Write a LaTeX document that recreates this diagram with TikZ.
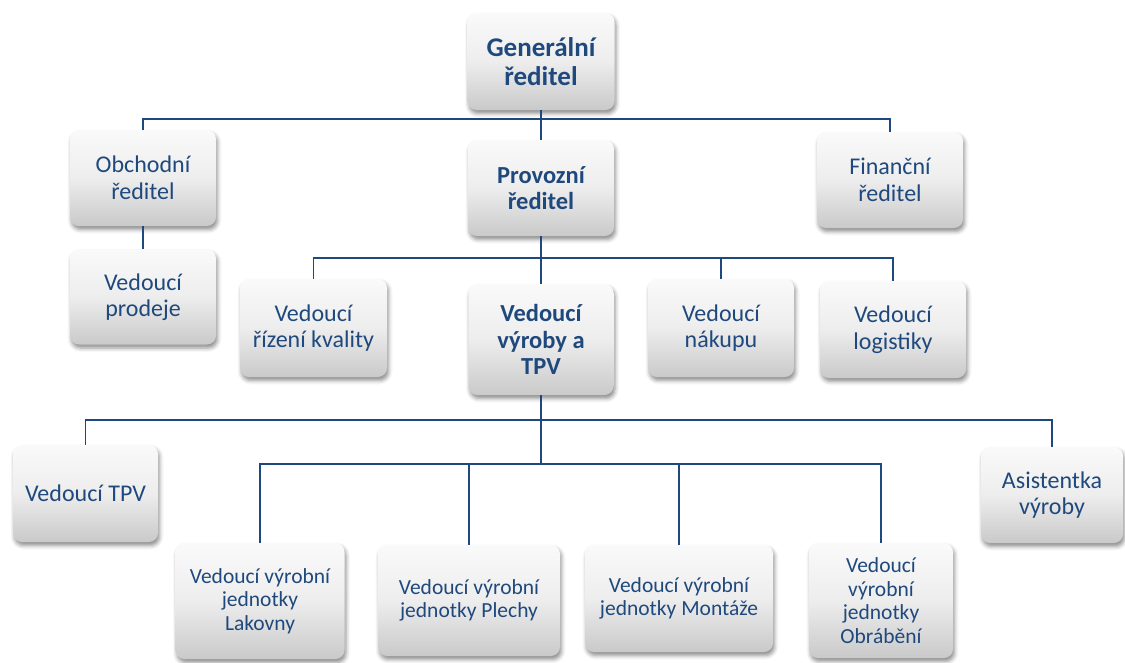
\documentclass[tikz,border=0pt]{standalone}
\usepackage{fontspec}
\setmainfont{Carlito}
\usetikzlibrary{shadows.blur}
\definecolor{orgblue}{HTML}{1F497D}
\tikzset{
  orgbox/.style={
    draw=none, rounded corners=9pt, inner sep=0pt, align=center,
    top color=gray!4, bottom color=gray!42, middle color=gray!14,
    text=orgblue, font=\fontsize{24}{26.5}\selectfont,
    blur shadow={shadow xshift=1.5pt, shadow yshift=-3.5pt,
                 shadow blur radius=4pt, shadow opacity=45}
  },
  unitbox/.style={orgbox, font=\fontsize{21.5}{23.5}\selectfont},
  headbox/.style={orgbox, font=\fontsize{24.5}{26.5}\selectfont\bfseries},
  topbox/.style={orgbox, font=\fontsize{27}{29.5}\selectfont\bfseries},
  conn/.style={draw=orgblue, line width=1.6pt}
}
\begin{document}
\begin{tikzpicture}[x=1pt, y=-1pt]
  \useasboundingbox (0,0) rectangle (1125,662);

  % top management
  \node[topbox, minimum width=147pt, minimum height=97pt] (gr) at (541,61.5) {Generální\\ředitel};
  \node[orgbox, minimum width=146pt, minimum height=96pt] (ob) at (143,178) {Obchodní\\ředitel};
  \node[headbox, minimum width=146pt, minimum height=96pt] (pv) at (541,188) {Provozní\\ředitel};
  \node[orgbox, minimum width=146pt, minimum height=96pt] (fi) at (890,180) {Finanční\\ředitel};
  \node[orgbox, minimum width=146pt, minimum height=95pt] (pd) at (143,297) {Vedoucí\\prodeje};

  % operations
  \node[orgbox, minimum width=147pt, minimum height=98pt] (kv) at (313.5,328) {Vedoucí\\řízení kvality};
  \node[headbox, minimum width=145pt, minimum height=111pt] (vy) at (541,339.5) {Vedoucí\\výroby a\\TPV};
  \node[orgbox, minimum width=146pt, minimum height=98pt] (nk) at (721,328) {Vedoucí\\nákupu};
  \node[orgbox, minimum width=146pt, minimum height=97pt] (lg) at (893,329.5) {Vedoucí\\logistiky};

  % production
  \node[orgbox, minimum width=145pt, minimum height=97pt] (tpv) at (85.5,493.5) {Vedoucí TPV};
  \node[orgbox, minimum width=142pt, minimum height=96pt] (as) at (1052,495) {Asistentka\\výroby};
  \node[unitbox, minimum width=169pt, minimum height=116pt] (lak) at (260,601) {Vedoucí výrobní\\jednotky\\Lakovny};
  \node[unitbox, minimum width=182pt, minimum height=111pt] (plc) at (469,600.5) {Vedoucí výrobní\\jednotky Plechy};
  \node[unitbox, minimum width=188pt, minimum height=107pt] (mon) at (679,598.5) {Vedoucí výrobní\\jednotky Montáže};
  \node[unitbox, minimum width=144pt, minimum height=115pt] (obr) at (881,600.5) {Vedoucí\\výrobní\\jednotky\\Obrábění};

  % bus lines
  \coordinate (busA) at (541,119);
  \coordinate (busB) at (541,258);
  \coordinate (busC) at (541,420);
  \coordinate (busD) at (541,464);

  % connectors
  \draw[conn] (gr.south) -- (pv.north);
  \draw[conn] (ob.north) |- (busA) -| (fi.north);
  \draw[conn] (ob.south) -- (pd.north);

  \draw[conn] (pv.south) -- (vy.north);
  \draw[conn] (kv.north) |- (busB) -| (lg.north);
  \draw[conn] (nk.north) -- (nk.north |- busB);

  \draw[conn] (vy.south) -- (busD);
  \draw[conn] (tpv.north) |- (busC) -| (as.north);
  \draw[conn] (lak.north) |- (busD) -| (obr.north);
  \draw[conn] (plc.north) -- (plc.north |- busD);
  \draw[conn] (mon.north) -- (mon.north |- busD);
\end{tikzpicture}
\end{document}
